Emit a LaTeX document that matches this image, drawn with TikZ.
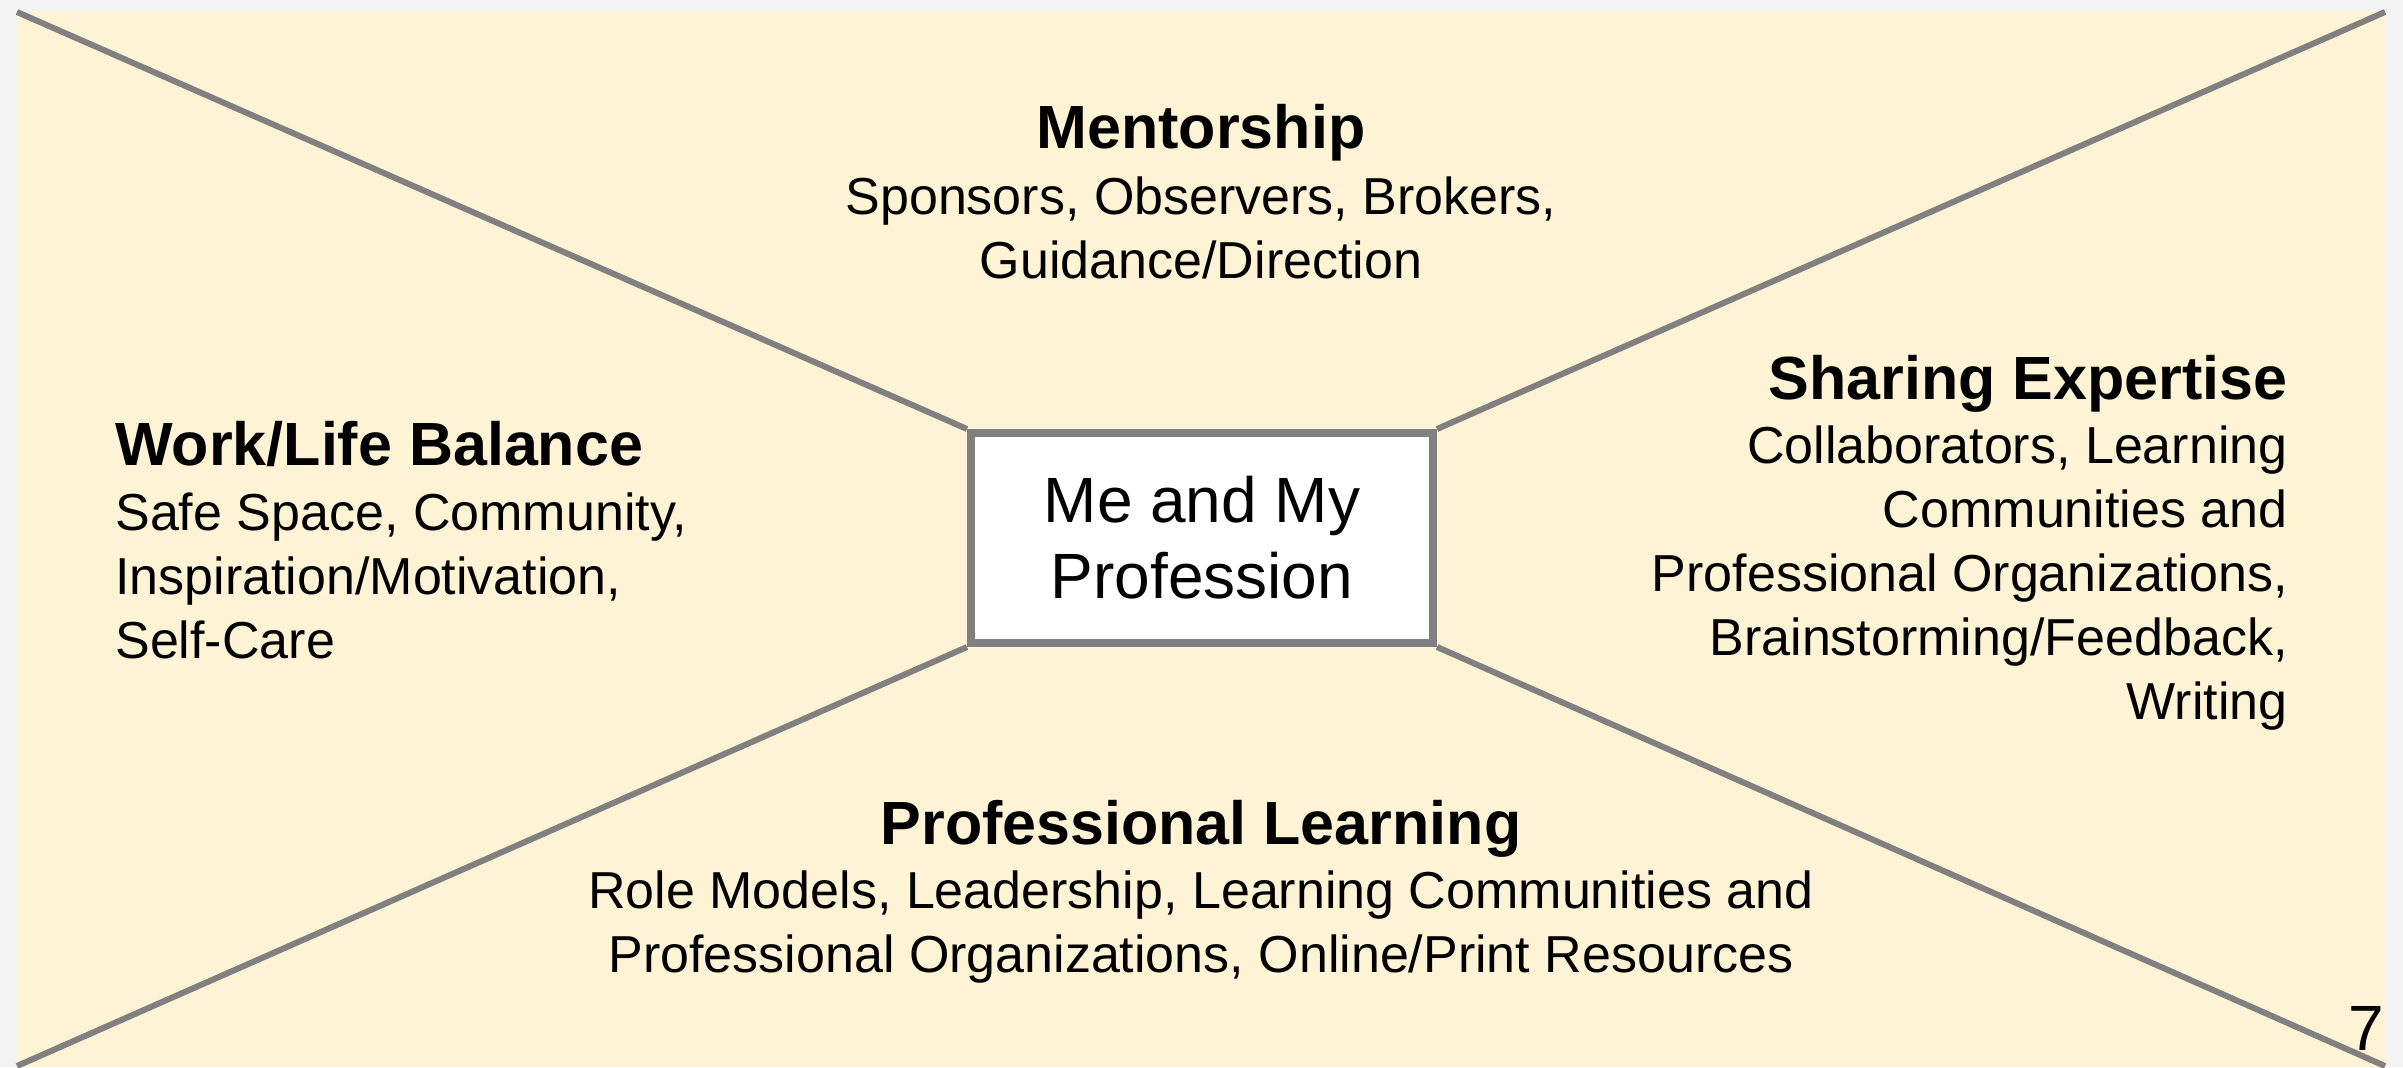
\documentclass[tikz,border=0pt]{standalone}
\usepackage{fontspec}
\setmainfont{Liberation Sans}
\definecolor{paper}{HTML}{FFF3D6}
\definecolor{edgegray}{HTML}{808080}
\definecolor{margingray}{HTML}{F3F3F3}
\pgfdeclarelayer{bg}
\pgfdeclarelayer{spokes}
\pgfsetlayers{bg,spokes,main}
\tikzset{
  hubbox/.style={draw=edgegray, line width=4pt, fill=white, minimum width=231pt,
    minimum height=105pt, inner sep=0pt, align=center,
    font=\fontsize{32pt}{38pt}\selectfont},
  spoke/.style={draw=edgegray, line width=3pt},
  headtext/.style={font=\bfseries\fontsize{30.5pt}{36pt}\selectfont, inner sep=0pt},
  bodytext/.style={font=\fontsize{26pt}{32pt}\selectfont, inner sep=0pt},
}
\begin{document}
\begin{tikzpicture}[x=0.5pt,y=-0.5pt]
\useasboundingbox (0,0) rectangle (2403,1067);
\begin{pgfonlayer}{bg}
  \fill[margingray] (0,0) rectangle (2403,1067);
  \fill[paper] (17,11) rectangle (2385,1067);
\end{pgfonlayer}
\coordinate (ctl) at (17,12);
\coordinate (ctr) at (2385,12);
\coordinate (cbl) at (17,1066);
\coordinate (cbr) at (2385,1066);
\node[hubbox] (hub) at (1202,538) {Me and My\\Profession};
\begin{pgfonlayer}{spokes}
  \draw[spoke] (ctl) -- (hub.north west);
  \draw[spoke] (ctr) -- (hub.north east);
  \draw[spoke] (cbl) -- (hub.south west);
  \draw[spoke] (cbr) -- (hub.south east);
\end{pgfonlayer}
% multi-line nodes: base anchor sits on the last line's baseline
\node[headtext, anchor=base] (mhead) at (1201,148) {Mentorship};
\node[bodytext, anchor=base, align=center] (mbody) at (1201,278) {Sponsors, Observers, Brokers,\\Guidance/Direction};
\node[headtext, anchor=base west] (whead) at (115,465) {Work/Life Balance};
\node[bodytext, anchor=base west, align=left] (wbody) at (115,658) {Safe Space, Community,\\Inspiration/Motivation,\\Self-Care};
\node[headtext, anchor=base east] (shead) at (2288,399) {Sharing Expertise};
\node[bodytext, anchor=base east, align=right] (sbody) at (2288,719) {Collaborators, Learning\\Communities and\\Professional Organizations,\\Brainstorming/Feedback,\\Writing};
\node[headtext, anchor=base] (phead) at (1201,844) {Professional Learning};
\node[bodytext, anchor=base, align=center] (pbody) at (1201,972) {Role Models, Leadership, Learning Communities and\\Professional Organizations, Online/Print Resources};
\node[anchor=base east, inner sep=0pt, font=\fontsize{32pt}{38pt}\selectfont] (pagenum) at (2384,1050) {7};
\end{tikzpicture}
\end{document}
